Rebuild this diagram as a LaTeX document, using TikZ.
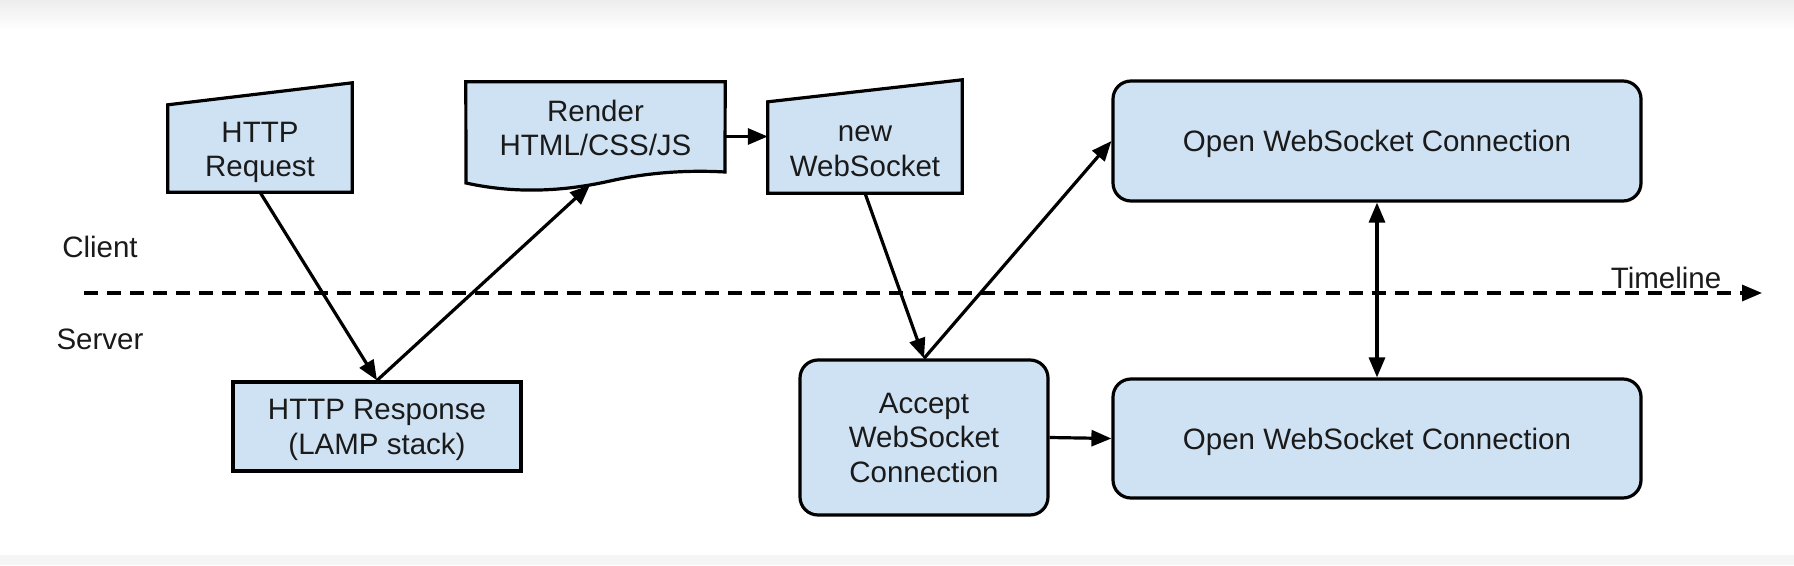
\documentclass[tikz,border=0pt]{standalone}
\usepackage{fontspec}
\setmainfont{Liberation Sans}
\usetikzlibrary{arrows.meta,calc}
\definecolor{boxblue}{HTML}{CFE2F3}
\definecolor{txt}{HTML}{1A1A1A}
\begin{document}
\begin{tikzpicture}[x=1pt,y=-1pt,
  font=\fontsize{29.5}{34.5}\selectfont,
  outline/.style={draw=black,line width=3.2pt,fill=boxblue},
  holder/.style={draw=none,inner sep=0pt},
  rbox/.style={outline,rounded corners=18pt,inner sep=0pt,align=center,text=txt},
  sbox/.style={outline,inner sep=0pt,align=center,text=txt},
  tip/.style={Triangle[length=20pt,width=16pt]},
  conn/.style={line width=3.2pt,-{Triangle[length=20pt,width=16pt]}},
  lbl/.style={text=txt,inner sep=0pt,align=center},
  capcenter/.style={text height=21.2pt,text depth=0pt},
]
\useasboundingbox (0,0) rectangle (1794,565);
\fill[white] (0,0) rectangle (1794,565);
\shade[top color=black!7,bottom color=white] (0,0) rectangle (1794,30);
\fill[black!4] (0,555) rectangle (1794,565);

% timeline
\coordinate (tl0) at (84,293);
\coordinate (tl1) at (1762,293);
\draw[line width=3.2pt,dash pattern=on 14pt off 9pt,-{Triangle[length=20pt,width=16pt]}] (tl0) -- (tl1);
\node[lbl] (client) at (100,247) {Client};
\node[lbl] (server) at (100,339) {Server};
\node[lbl] (timeline) at (1666,278) {Timeline};

% HTTP Request (manual input)
\node[holder,minimum width=184pt,minimum height=109pt] (req) at (260,137.5) {};
\draw[outline] (req.south west) -- (req.south east) -- (req.north east) -- ($(req.north west)+(0,22)$) -- cycle;
\node[lbl] (reqt) at ($(req.center)+(0,15)$) {HTTP\\Request};

% Render (document)
\node[holder,minimum width=259pt,minimum height=91pt] (rend) at (595.5,127.5) {};
\draw[outline] (466,183) -- (rend.north west) -- (rend.north east) -- (725,172)
  .. controls (690,170) and (650,172) .. (610,181)
  .. controls (570,190) and (520,195) .. (466,183) -- cycle;
\node[lbl] (rendt) at ($(rend.center)+(0,0.5)$) {Render\\HTML/CSS/JS};
\coordinate (rendb) at (590,185);

% new WebSocket (manual input)
\node[holder,minimum width=194pt,minimum height=113pt] (ws) at (865,136.5) {};
\draw[outline] (ws.south west) -- (ws.south east) -- (ws.north east) -- ($(ws.north west)+(0,22)$) -- cycle;
\node[lbl] (wst) at ($(ws.center)+(0,14.5)$) {new\\WebSocket};

% server side boxes
\node[sbox,minimum width=288pt,minimum height=89pt] (resp) at (377,426.5) {};
\node[lbl] (respt) at ($(resp.center)+(0,3.5)$) {HTTP Response\\(LAMP stack)};
\node[rbox,minimum width=248pt,minimum height=155pt] (acc) at (924,437.5) {Accept\\WebSocket\\Connection};
\node[rbox,capcenter,minimum width=528pt,minimum height=120pt] (open1) at (1377,141) {Open WebSocket Connection};
\node[rbox,capcenter,minimum width=528pt,minimum height=119pt] (open2) at (1377,438.5) {Open WebSocket Connection};

% connectors
\draw[conn] (req.south) -- (resp.north);
\draw[conn] (resp.north) -- (rendb);
\draw[conn] (rend.east |- ws.west) -- (ws.west);
\draw[conn] (ws.south) -- (acc.north);
\draw[conn] (acc.north) -- (open1.west);
\draw[conn] (acc.east) -- (open2.west);
\draw[line width=3.2pt,{Triangle[length=20pt,width=16pt]}-{Triangle[length=20pt,width=16pt]}] (open1.south) -- (open2.north);
\end{tikzpicture}
\end{document}
